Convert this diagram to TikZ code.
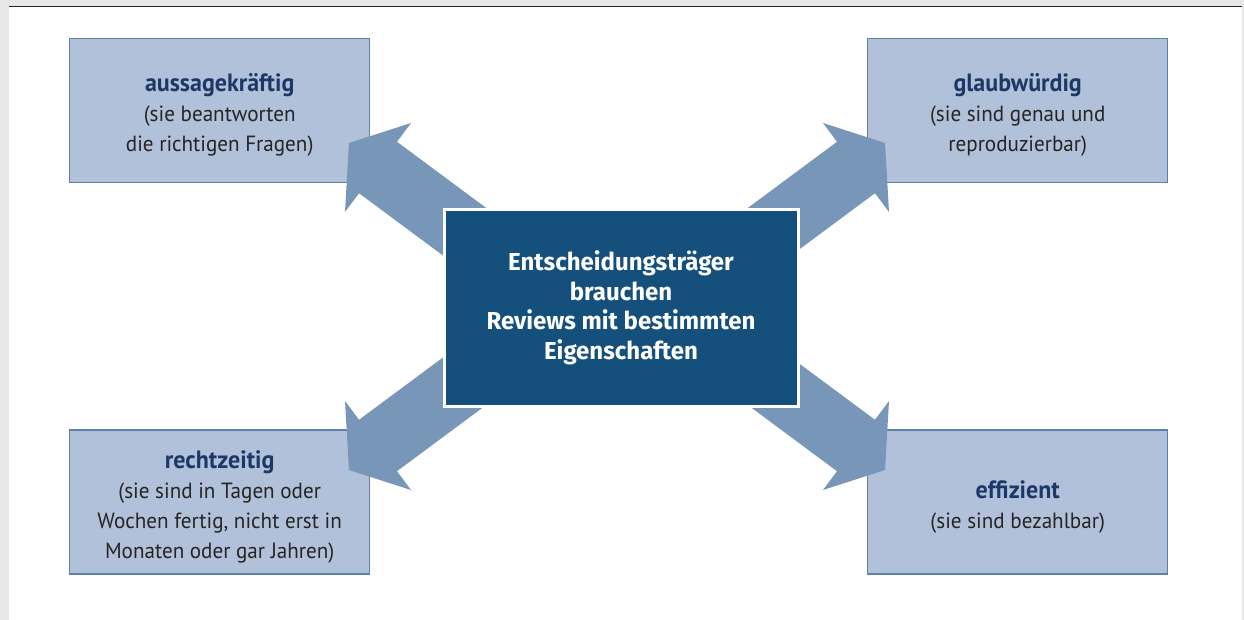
\documentclass[tikz,border=0pt]{standalone}
\usepackage{fontspec}
\usepackage{tikz}
\setmainfont{PT Sans}[FakeStretch=0.96]
\newfontfamily\centerfont[FakeStretch=0.98]{Fira Sans}
\definecolor{pagegray}{HTML}{E6E7E8}
\definecolor{boxfill}{HTML}{B0C1D9}
\definecolor{boxline}{HTML}{5D82AA}
\definecolor{arrowfill}{HTML}{7896B7}
\definecolor{centerblue}{HTML}{154F7C}
\definecolor{titleblue}{HTML}{1D3767}
\definecolor{bodytext}{HTML}{262424}
\newcommand{\boxtitle}[1]{\rule{0pt}{27pt}{\fontsize{25}{30}\selectfont\bfseries\color{titleblue}#1}}

\begin{document}
\begin{tikzpicture}[x=1pt,y=-1pt,
  prop/.style={draw=boxline,fill=boxfill,line width=1.5pt,minimum width=300pt,minimum height=144pt,align=center,text=bodytext,font=\fontsize{22}{30}\selectfont},
  core/.style={draw=white,line width=3pt,fill=centerblue,minimum width=354pt,minimum height=197pt,align=center,text=white,font=\centerfont\bfseries\fontsize{24.5}{29.5}\selectfont}]
\useasboundingbox (0,0) rectangle (1244,620);
\fill[pagegray] (0,0) rectangle (1244,620);
\fill[white] (8.7,7) rectangle (1241.5,620);
\draw[line width=1.3pt,color=black!85] (8.7,6.6) -- (1241.5,6.6);
% Eigenschaften
\node[prop] (e1) at (219.7,110.4) {\boxtitle{aussagekräftig}\\(sie beantworten\\die richtigen Fragen)};
\node[prop] (e2) at (1017.7,110.4) {\boxtitle{glaubwürdig}\\(sie sind genau und\\reproduzierbar)};
\node[prop] (e3) at (219.7,502) {\boxtitle{rechtzeitig}\\(sie sind in Tagen oder\\Wochen fertig, nicht erst in\\Monaten oder gar Jahren)};
\node[prop] (e4) at (1017.7,502) {\boxtitle{effizient}\\(sie sind bezahlbar)};
% Pfeile
\coordinate (o) at (617,306.5);
\foreach \sx/\sy in {1/1,-1/1,1/-1,-1/-1}{\fill[arrowfill,shift={(o)},xscale=\sx,yscale=\sy] (-268,-163.5) -- (-206,-183.5) -- (-220,-164.7) -- (-99.5,-75.3) -- (-137.5,-23.9) -- (-258,-113.3) -- (-272,-94.5) -- cycle;};
\node[core] (m) at (621,308) {Entscheidungsträger\\brauchen\\Reviews mit bestimmten\\Eigenschaften};
\end{tikzpicture}
\end{document}
